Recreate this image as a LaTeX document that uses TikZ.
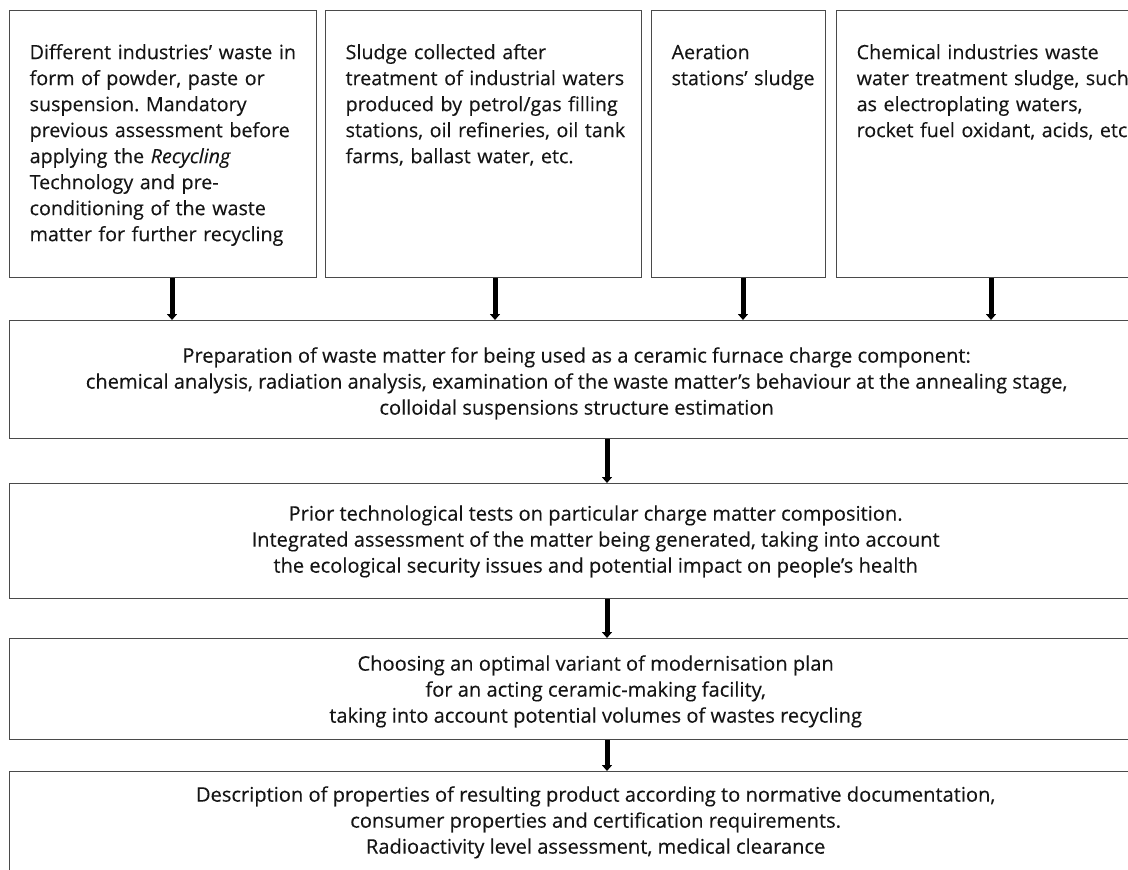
\documentclass[tikz,border=0pt]{standalone}
\usepackage{fontspec}
\setmainfont{Open Sans}[FakeBold=0.25]
\frenchspacing
\definecolor{BoxGrey}{HTML}{4A4A4A}
\definecolor{InkBlack}{HTML}{151515}
\usepackage{tikz}
\usetikzlibrary{positioning,arrows.meta}

\begin{document}
\begin{tikzpicture}[x=1pt, y=-1pt, text=InkBlack,
    srcbox/.style={draw=BoxGrey, line width=1.3pt, anchor=north west, inner xsep=0pt,
      inner ysep=0pt, align=left, text height=48.5pt, text depth=218.5pt,
      font=\fontsize{19.7}{26}\selectfont, execute at begin node={\leftskip=20pt}},
    stepbox/.style={draw=BoxGrey, line width=1.3pt, anchor=north west, align=center,
      inner sep=0pt, font=\fontsize{20.1}{26}\selectfont},
    flowarrow/.style={line width=5pt, black, -{Triangle[width=10pt,length=6pt]}}]
    \useasboundingbox (0,0) rectangle (1128,870);
    \clip (0,0) rectangle (1128,870);
    \node[srcbox, text width=307pt] (src1) at (9,10) {
      Different industries’ waste in\\ form of powder, paste or\\ suspension. Mandatory\\
      previous assessment before\\ applying the \textit{Recycling}\\ Technology and pre-\\
      conditioning of the waste\\ matter for further recycling};
    \node[srcbox, text width=316pt] (src2) at (325,10) {
      Sludge collected after\\ treatment of industrial waters\\ produced by petrol/gas filling\\
      stations, oil refineries, oil tank\\ farms, ballast water, etc.};
    \node[srcbox, text width=174pt] (src3) at (651,10) {
      Aeration\\ stations’ sludge};
    \node[srcbox, text width=330pt] (src4) at (836,10) {
      Chemical industries waste\\ water treatment sludge, such\\ as electroplating waters,\\
      rocket fuel oxidant, acids, etc.};
    \node[stepbox, minimum width=1134pt, text height=94pt, text depth=24pt] (stepA) at (9,320) {
      Preparation of waste matter for being used as a ceramic furnace charge component:\\
      chemical analysis, radiation analysis, examination of the waste matter’s behaviour at the annealing stage,\\
      colloidal suspensions structure estimation};
    \node[stepbox, minimum width=1172pt, text height=89pt, text depth=26pt] (stepB) at (9,483) {
      Prior technological tests on particular charge matter composition.\\
      Integrated assessment of the matter being generated, taking into account\\
      the ecological security issues and potential impact on people’s health};
    \node[stepbox, minimum width=1172pt, text height=84pt, text depth=17pt] (stepC) at (9,638) {
      Choosing an optimal variant of modernisation plan\\
      for an acting ceramic-making facility,\\
      taking into account potential volumes of wastes recycling};
    \node[stepbox, minimum width=1172pt, text height=82pt, text depth=20pt] (stepD) at (9,771) {
      Description of properties of resulting product according to normative documentation,\\
      consumer properties and certification requirements.\\
      Radioactivity level assessment, medical clearance};
    \coordinate (in1) at (172,0);
    \coordinate (in2) at (495,0);
    \coordinate (in3) at (743,0);
    \coordinate (in4) at (991,0);
    \coordinate (spine) at (607,0);
    \foreach \s/\c in {src1/in1, src2/in2, src3/in3, src4/in4}
      \draw[flowarrow] (\s.south -| \c) -- (stepA.north -| \c);
    \draw[flowarrow] (stepA.south -| spine) -- (stepB.north -| spine);
    \draw[flowarrow] (stepB.south -| spine) -- (stepC.north -| spine);
    \draw[flowarrow] (stepC.south -| spine) -- (stepD.north -| spine);
\end{tikzpicture}
\end{document}
